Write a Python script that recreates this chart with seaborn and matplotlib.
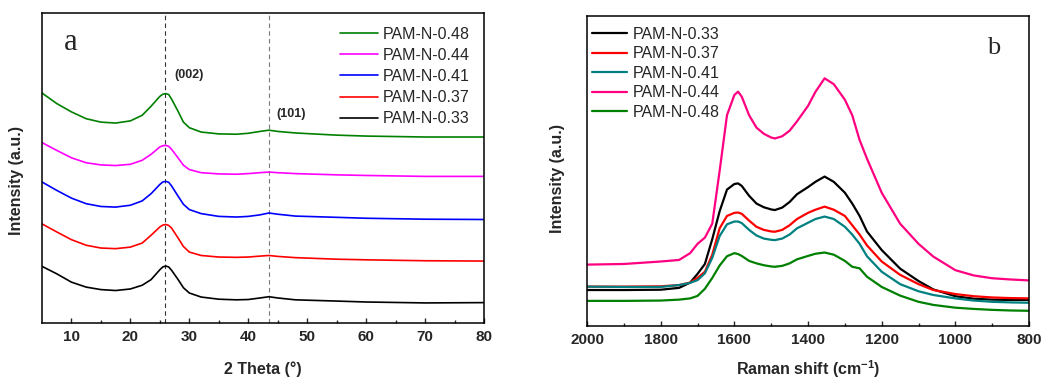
import numpy as np
import pandas as pd
import matplotlib
matplotlib.use("Agg")
import matplotlib.pyplot as plt
import seaborn as sns

# ---------------- Panel a: XRD ----------------
theta = [5, 7.5, 10, 12.5, 15, 17.5, 20, 22, 23.5, 25, 25.5, 26, 26.5, 27, 28, 29, 30, 32,
         35, 38, 40, 42, 43.5, 45, 48, 55, 60, 70, 80]
xrd_033 = [18.3, 15.9, 13.2, 11.6, 10.8, 10.5, 11.0, 12.2, 14.0, 17.2, 18.1, 18.4, 18.1, 17.0,
           14.3, 11.4, 9.7, 8.4, 7.7, 7.5, 7.6, 8.1, 8.5, 8.1, 7.5, 7.1, 6.8, 6.5, 6.6]
xrd_037 = [32.0, 29.4, 26.9, 25.1, 24.2, 24.0, 24.5, 25.8, 28.3, 31.0, 31.6, 31.8, 31.5, 30.6,
           27.7, 24.7, 22.9, 21.8, 21.3, 21.2, 21.3, 21.6, 21.8, 21.5, 21.1, 20.6, 20.4, 20.1, 20.0]
xrd_041 = [45.5, 42.8, 40.3, 38.5, 37.6, 37.4, 38.0, 39.4, 41.7, 44.7, 45.5, 45.7, 45.4, 44.2,
           41.2, 38.3, 36.6, 35.3, 34.4, 34.2, 34.4, 34.9, 35.5, 35.1, 34.5, 34.1, 33.8, 33.5, 33.4]
xrd_044 = [58.2, 55.7, 53.3, 51.7, 51.0, 50.8, 51.2, 52.5, 54.4, 56.8, 57.2, 57.3, 57.0, 56.0,
           53.5, 50.9, 49.5, 48.5, 48.1, 48.0, 48.2, 48.5, 48.7, 48.5, 48.2, 47.8, 47.6, 47.3, 47.3]
xrd_048 = [74.2, 70.8, 68.1, 65.9, 64.8, 64.5, 65.2, 67.0, 69.9, 73.1, 73.8, 74.0, 73.7, 72.2,
           68.6, 64.8, 63.0, 61.6, 61.0, 60.9, 61.2, 61.8, 62.2, 61.8, 61.3, 60.6, 60.3, 60.0, 60.0]
xrd_ticks = [10, 20, 30, 40, 50, 60, 70, 80]
peak_002 = 25.8
peak_101 = 43.5

# ---------------- Panel b: Raman ----------------
shift = [2000, 1900, 1800, 1750, 1720, 1700, 1680, 1660, 1640, 1620, 1600, 1590, 1580,
         1560, 1540, 1520, 1500, 1490, 1470, 1450, 1430, 1400, 1380, 1355, 1330, 1300,
         1280, 1260, 1240, 1200, 1150, 1100, 1060, 1000, 950, 900, 850, 800]
ram_033 = [11.6, 11.6, 11.7, 12.3, 14.0, 16.8, 20.0, 28.0, 37.0, 44.0, 45.8, 46.0, 45.2,
           42.0, 39.5, 38.3, 37.6, 37.4, 38.2, 40.0, 42.5, 44.8, 46.5, 48.2, 46.5, 43.0,
           39.5, 35.5, 30.5, 24.5, 18.5, 14.5, 11.8, 9.6, 8.8, 8.5, 8.4, 8.4]
ram_037 = [12.7, 12.7, 12.8, 13.2, 14.0, 15.5, 17.5, 23.0, 31.5, 35.5, 36.5, 36.6, 36.2,
           34.0, 32.0, 31.0, 30.5, 30.4, 31.0, 32.5, 34.5, 36.5, 37.5, 38.5, 37.5, 35.5,
           32.5, 29.5, 26.0, 20.8, 16.5, 13.5, 11.6, 10.3, 9.6, 9.2, 9.0, 8.9]
ram_041 = [12.7, 12.6, 12.6, 13.2, 13.9, 14.8, 17.0, 22.0, 29.0, 32.8, 33.7, 33.7, 33.2,
           31.0, 29.2, 28.2, 27.8, 27.7, 28.2, 29.5, 31.5, 33.3, 34.5, 35.3, 34.5, 32.0,
           29.5, 26.5, 22.5, 17.5, 13.5, 11.2, 10.0, 8.9, 8.2, 7.8, 7.6, 7.5]
ram_044 = [19.8, 20.0, 20.8, 21.3, 23.5, 26.5, 28.5, 33.0, 50.0, 68.0, 74.5, 75.6, 74.0,
           68.0, 64.0, 62.0, 60.8, 60.5, 61.2, 63.0, 66.0, 71.0, 75.5, 79.9, 78.0, 73.0,
           68.0, 60.0, 54.0, 43.0, 33.0, 26.5, 22.4, 18.0, 16.3, 15.4, 15.0, 14.7]
ram_048 = [8.1, 8.1, 8.2, 8.5, 8.9, 9.7, 12.0, 15.5, 19.5, 22.5, 23.5, 23.2, 22.6,
           21.0, 20.2, 19.6, 19.2, 19.1, 19.4, 20.2, 21.5, 22.6, 23.3, 23.7, 23.0, 21.0,
           19.1, 18.6, 15.9, 12.6, 9.8, 7.8, 6.8, 5.9, 5.5, 5.2, 5.0, 4.9]
raman_ticks = [2000, 1800, 1600, 1400, 1200, 1000, 800]

labels = ["PAM-N-0.33", "PAM-N-0.37", "PAM-N-0.41", "PAM-N-0.44", "PAM-N-0.48"]

# ---------------- styling ----------------
sns.set_theme(style="ticks")
plt.rcParams["font.family"] = ["Liberation Sans", "DejaVu Sans"]
plt.rcParams["mathtext.default"] = "regular"

xrd_df = pd.concat([pd.DataFrame({"x": theta, "y": v, "sample": lab})
                    for v, lab in zip([xrd_033, xrd_037, xrd_041, xrd_044, xrd_048], labels)])
ram_df = pd.concat([pd.DataFrame({"x": shift, "y": v, "sample": lab})
                    for v, lab in zip([ram_033, ram_037, ram_041, ram_044, ram_048], labels)])

pal_a = {"PAM-N-0.48": "#008000", "PAM-N-0.44": "#ff00ff", "PAM-N-0.41": "#0000ff",
         "PAM-N-0.37": "#ff0000", "PAM-N-0.33": "#000000"}
pal_b = {"PAM-N-0.33": "#000000", "PAM-N-0.37": "#ff0000", "PAM-N-0.41": "#008080",
         "PAM-N-0.44": "#ff0080", "PAM-N-0.48": "#008000"}

fig = plt.figure(figsize=(10.41, 3.81), dpi=100)
ax1 = fig.add_axes([0.0403, 0.152, 0.4247, 0.814])
ax2 = fig.add_axes([0.5639, 0.1444, 0.4246, 0.8136])

order_a = ["PAM-N-0.48", "PAM-N-0.44", "PAM-N-0.41", "PAM-N-0.37", "PAM-N-0.33"]
sns.lineplot(data=xrd_df, x="x", y="y", hue="sample", hue_order=order_a, palette=pal_a,
             estimator=None, linewidth=1.2, ax=ax1)
order_b = labels
sns.lineplot(data=ram_df, x="x", y="y", hue="sample", hue_order=order_b, palette=pal_b,
             estimator=None, linewidth=1.6, ax=ax2)

for ax in (ax1, ax2):
    for sp in ax.spines.values():
        sp.set_visible(True)
        sp.set_linewidth(1.1)
        sp.set_color("black")
    ax.set_yticks([])
    ax.set_ylim(0, 100)
    ax.tick_params(axis="x", which="both", direction="in", top=False, labelsize=11,
                   pad=5, width=1.0)
    ax.tick_params(axis="x", which="major", length=3.5)
    ax.tick_params(axis="x", which="minor", length=2.5)

ax1.set_ylabel("Intensity (a.u.)", fontsize=11.5, fontweight="bold")
ax1.yaxis.set_label_coords(-0.040, 0.461)
ax2.set_ylabel("Intensity (a.u.)", fontsize=11.5, fontweight="bold")
ax2.yaxis.set_label_coords(-0.050, 0.476)

ax1.set_xlim(5, 80)
ax1.set_xticks(xrd_ticks)
ax1.set_xticks([15, 25, 35, 45, 55, 65, 75], minor=True)
for t in ax1.get_xticklabels():
    t.set_fontweight("bold")
ax1.set_xlabel("2 Theta (°)", fontsize=11.5, fontweight="bold", labelpad=12.5)
ax1.axvline(peak_002, color="#333333", ls=(0, (4, 3)), lw=0.8, zorder=0)
ax1.axvline(peak_101, color="#777777", ls=(0, (4, 3)), lw=0.8, zorder=0)
ax1.text(30.0, 79.9, "(002)", fontsize=9, fontweight="bold", ha="center", va="center")
ax1.text(47.3, 67.3, "(101)", fontsize=9, fontweight="bold", ha="center", va="center")
ax1.text(9.8, 90.6, "a", fontsize=22, family="Liberation Serif", ha="center", va="center")
h, l = ax1.get_legend_handles_labels()
ax1.legend(h, l, loc="upper left", bbox_to_anchor=(0.675, 0.955), frameon=False,
           fontsize=11.5, handlelength=2.35, handletextpad=0.3, labelspacing=0.38,
           borderpad=0, borderaxespad=0)

ax2.set_xlim(2000, 800)
ax2.set_xticks(raman_ticks)
ax2.set_xticks([1900, 1700, 1500, 1300, 1100, 900], minor=True)
for t in ax2.get_xticklabels():
    t.set_fontweight("bold")
ax2.set_xlabel("Raman shift (cm$^{-1}$)", fontsize=11.5, fontweight="bold", labelpad=8.5)
ax2.text(895, 89.6, "b", fontsize=19, family="Liberation Serif", ha="center", va="center")
h, l = ax2.get_legend_handles_labels()
ax2.legend(h, l, loc="upper left", bbox_to_anchor=(0.012, 0.965), frameon=False,
           fontsize=11.5, handlelength=2.2, handletextpad=0.3, labelspacing=0.28,
           borderpad=0, borderaxespad=0)

fig.savefig("out.png", dpi=100)
